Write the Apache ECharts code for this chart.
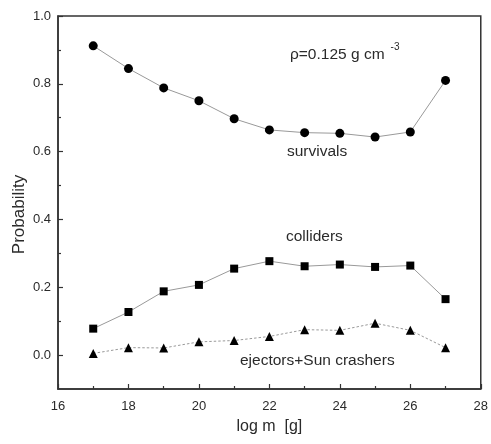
<!DOCTYPE html>
<html><head><meta charset="utf-8">
<script src="https://cdn.jsdelivr.net/npm/echarts@6/dist/echarts.min.js"></script>
<style>html,body{margin:0;padding:0;background:#fff}#c{width:491px;height:444px}</style>
</head><body><div id="c"></div>
<script>
const logM = [17, 18, 19, 20, 21, 22, 23, 24, 25, 26, 27];
const survivals = [0.912, 0.845, 0.788, 0.750, 0.697, 0.664, 0.656, 0.654, 0.643, 0.658, 0.810];
const colliders = [0.078, 0.127, 0.188, 0.207, 0.255, 0.277, 0.262, 0.267, 0.260, 0.264, 0.165];
const ejectors = [0.005, 0.022, 0.021, 0.039, 0.043, 0.055, 0.075, 0.073, 0.094, 0.073, 0.022];
const xTicks = [16, 18, 20, 22, 24, 26, 28];
const xMinorTicks = [17, 19, 21, 23, 25, 27];
const yTicks = [0.0, 0.2, 0.4, 0.6, 0.8, 1.0];
const yMinorTicks = [0.1, 0.3, 0.5, 0.7, 0.9];

const font = 'Liberation Sans, Arial, sans-serif';
const txt = '#2a2a2a';
const pairs = a => logM.map((x, i) => [x, a[i]]);
const chart = echarts.init(document.getElementById('c'));
const lbl = {color: txt, fontFamily: font, fontSize: 13};
const major = vals => ({show: true, inside: true, length: 5, customValues: vals, lineStyle: {color: '#333', width: 1.2}});
const minor = vals => ({show: true, inside: true, length: 3, customValues: vals, lineStyle: {color: '#333', width: 1.2}});
chart.setOption({
  animation: false,
  grid: {left: 58, right: 7, top: 16, bottom: 55, show: true, borderColor: '#333', borderWidth: 1.5},
  xAxis: [
    {type: 'value', min: 16, max: 28, interval: 1,
     axisLine: {show: true, onZero: false, lineStyle: {color: '#333', width: 1.5}},
     axisTick: major(xTicks), splitLine: {show: false},
     axisLabel: Object.assign({}, lbl, {margin: 11, customValues: xTicks, formatter: v => String(v)}),
     name: 'log m  [g]', nameLocation: 'middle', nameGap: 30, nameMoveOverlap: false,
     nameTextStyle: {color: txt, fontFamily: font, fontSize: 16}},
    {type: 'value', min: 16, max: 28, interval: 1, position: 'bottom',
     axisLine: {show: false, onZero: false}, axisTick: minor(xMinorTicks),
     axisLabel: {show: false}, splitLine: {show: false}}
  ],
  yAxis: [
    {type: 'value', min: -0.1, max: 1.0, interval: 0.1,
     axisLine: {show: true, onZero: false, lineStyle: {color: '#333', width: 1.5}},
     axisTick: major(yTicks), splitLine: {show: false},
     axisLabel: Object.assign({}, lbl, {margin: 7, customValues: yTicks, formatter: v => v.toFixed(1)}),
     name: 'Probability', nameLocation: 'middle', nameGap: 30, nameMoveOverlap: false,
     nameTextStyle: {color: txt, fontFamily: font, fontSize: 17, padding: [0, 0, 0, -24]}},
    {type: 'value', min: -0.1, max: 1.0, interval: 0.1, position: 'left',
     axisLine: {show: false, onZero: false}, axisTick: minor(yMinorTicks),
     axisLabel: {show: false}, splitLine: {show: false}}
  ],
  series: [
    {type: 'line', data: pairs(survivals), symbol: 'circle', symbolSize: 9,
     itemStyle: {color: '#000'}, lineStyle: {color: '#999', width: 1}},
    {type: 'line', data: pairs(colliders), symbol: 'rect', symbolSize: 8,
     itemStyle: {color: '#000'}, lineStyle: {color: '#999', width: 1}},
    {type: 'line', data: pairs(ejectors), symbol: 'triangle', symbolSize: 9,
     itemStyle: {color: '#000'}, lineStyle: {color: '#999', width: 1, type: [2.5, 2]}}
  ],
  graphic: [
    {type: 'text', left: 290, top: 42, style: {
      rich: {a: {fontFamily: font, fontSize: 15.5, fill: txt}, s: {fontFamily: font, fontSize: 10, fill: txt, verticalAlign: 'top', padding: [0, 0, 16, 6]}},
      text: '{a|ρ=0.125 g cm}{s|-3}'}},
    {type: 'text', left: 287, top: 144, style: {text: 'survivals', fontFamily: font, fontSize: 15.5, fill: txt}},
    {type: 'text', left: 286, top: 229, style: {text: 'colliders', fontFamily: font, fontSize: 15.5, fill: txt}},
    {type: 'text', left: 240, top: 353, style: {text: 'ejectors+Sun crashers', fontFamily: font, fontSize: 15.5, fill: txt}}
  ]
});
</script></body></html>
